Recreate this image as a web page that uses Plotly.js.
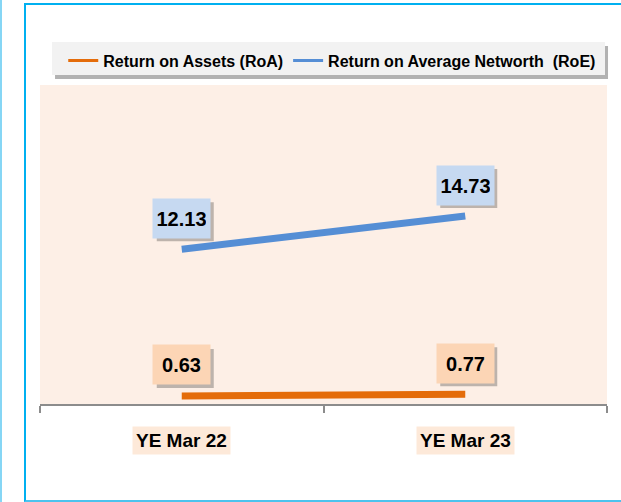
<!DOCTYPE html>
<html>
<head>
<meta charset="utf-8">
<script src="https://cdn.plot.ly/plotly-3.0.1.min.js"></script>
<style>
  body { margin: 0; background: #fff; }
  #page { position: relative; width: 621px; height: 502px; overflow: hidden; }
  #leftline { position: absolute; left: 0; top: 0; width: 2px; height: 502px; background: #86d6f5; }
  #frame { position: absolute; left: 24px; top: 3px; width: 700px; height: 495px;
           border-left: 2px solid #00b0f0; border-top: 2px solid #00b0f0; border-bottom: 2px solid #4cc3ee; }
  #chart { position: absolute; left: 0; top: 0; width: 621px; height: 502px; }
</style>
</head>
<body>
<div id="page">
  <div id="leftline"></div>
  <div id="frame"></div>
  <div id="chart"></div>
</div>
<script>
const categories = ['YE Mar 22', 'YE Mar 23'];
const roa = [0.63, 0.77];
const roe = [12.13, 14.73];
const seriesNames = ['Return on Assets (RoA)', 'Return on Average Networth  (RoE)'];

const FONT = '"Liberation Sans", Arial, sans-serif';
const ORANGE = '#e46c0a';
const BLUE = '#558ed5';

var trace1 = {
  x: categories, y: roa, name: seriesNames[0], showlegend: false,
  mode: 'lines', type: 'scatter',
  line: { color: ORANGE, width: 7 }
};
var trace2 = {
  x: categories, y: roe, name: seriesNames[1], showlegend: false,
  mode: 'lines', type: 'scatter',
  line: { color: BLUE, width: 7 }
};
// legend-only entries so the legend key can use a thinner line
var key1 = { x: [null], y: [null], name: seriesNames[0], mode: 'lines', type: 'scatter',
             line: { color: ORANGE, width: 3 } };
var key2 = { x: [null], y: [null], name: seriesNames[1], mode: 'lines', type: 'scatter',
             line: { color: BLUE, width: 3 } };

// value label boxes, sitting 31px above their point
function valueLabels(ys, bg) {
  return ys.map((v, i) => ({
    x: categories[i], y: v, xref: 'x', yref: 'y',
    text: v.toFixed(2), showarrow: false, yshift: 31,
    width: 49, height: 31, borderpad: 4, bgcolor: bg,
    font: { family: FONT, size: 20, color: '#000', weight: 'bold' }
  }));
}
// drop shadows for the label boxes, anchored to the data points
function labelShadows(ys) {
  return ys.map((v, i) => ({
    type: 'rect', xref: 'x', yref: 'y',
    xsizemode: 'pixel', ysizemode: 'pixel',
    xanchor: categories[i], yanchor: v,
    x0: -25, x1: 32, y0: 8, y1: 47,
    fillcolor: 'rgba(0,0,0,0.25)', line: { width: 0 }, layer: 'above'
  }));
}

const catLabels = categories.map(c => ({
  x: c, y: -0.113, xref: 'x', yref: 'paper', xanchor: 'center', yanchor: 'middle',
  text: c, showarrow: false, bgcolor: '#fde9d9', borderpad: 3,
  font: { family: FONT, size: 19, color: '#000', weight: 'bold' }
}));

var layout = {
  width: 621, height: 502,
  margin: { l: 40, r: 14, t: 85, b: 98 },
  paper_bgcolor: 'rgba(0,0,0,0)',
  plot_bgcolor: '#fdefe6',
  showlegend: true,
  legend: {
    orientation: 'h', x: 0.041, y: 1.13, xanchor: 'left', yanchor: 'top',
    bgcolor: 'rgba(0,0,0,0)', itemwidth: 30,
    font: { family: FONT, size: 16, color: '#000', weight: 'bold' }
  },
  xaxis: {
    type: 'category', range: [-0.5, 1.5], fixedrange: true,
    showline: true, linecolor: '#8c8c8c', linewidth: 2,
    ticks: 'outside', tickson: 'boundaries', ticklen: 7, tickcolor: '#8c8c8c', tickwidth: 2,
    showticklabels: false, showgrid: false, zeroline: false
  },
  yaxis: {
    range: [0, 25], visible: false, fixedrange: true
  },
  shapes: [
    { type: 'rect', xref: 'paper', yref: 'paper', x0: 0.0265, x1: 1.0018, y0: 1.0188, y1: 1.1223,
      fillcolor: 'rgba(0,0,0,0.3)', line: { width: 0 }, layer: 'above' },
    { type: 'rect', xref: 'paper', yref: 'paper', x0: 0.0212, x1: 0.9965, y0: 1.0313, y1: 1.1348,
      fillcolor: '#f2f2f2', line: { width: 0 }, layer: 'above' }
  ].concat(labelShadows(roa), labelShadows(roe)),
  annotations: valueLabels(roa, '#fcd5b5').concat(valueLabels(roe, '#c6d9f1'), catLabels)
};

Plotly.newPlot('chart', [trace1, trace2, key1, key2], layout, { displayModeBar: false, staticPlot: true });
</script>
</body>
</html>
